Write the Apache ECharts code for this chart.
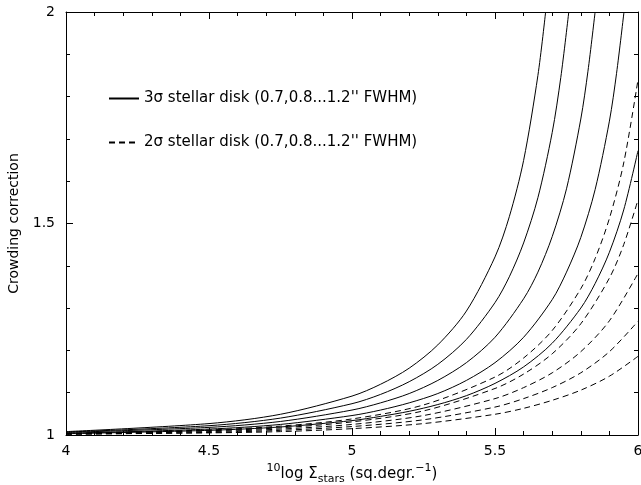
<!DOCTYPE html>
<html>
<head>
<meta charset="utf-8">
<script src="https://cdn.jsdelivr.net/npm/echarts@6/dist/echarts.min.js"></script>
<style>
html, body { margin: 0; padding: 0; background: #fff; }
#chart { width: 641px; height: 485px; }
</style>
</head>
<body>
<div id="chart"></div>
<script>
// 3 sigma stellar disk (solid), largest FWHM first
var solid12 = [[4,1.008],[4.5,1.027],[4.75,1.049],[5,1.092],[5.1,1.120],[5.2,1.158],[5.3,1.213],[5.4,1.293],[5.5,1.421],[5.55,1.516],[5.6,1.649],[5.65,1.85],[5.677,2]];
var solid11 = [[4,1.007],[4.5,1.022],[4.75,1.040],[5,1.074],[5.1,1.096],[5.2,1.126],[5.3,1.167],[5.4,1.226],[5.5,1.313],[5.55,1.374],[5.6,1.454],[5.65,1.561],[5.7,1.715],[5.73,1.845],[5.758,2]];
var solid10 = [[4,1.006],[4.5,1.018],[4.75,1.032],[5,1.059],[5.1,1.076],[5.2,1.098],[5.3,1.129],[5.4,1.171],[5.5,1.231],[5.6,1.322],[5.65,1.385],[5.7,1.469],[5.75,1.582],[5.8,1.747],[5.825,1.86],[5.85,2]];
var solid09 = [[4,1.004],[4.5,1.014],[4.75,1.025],[5,1.046],[5.1,1.059],[5.2,1.076],[5.3,1.098],[5.4,1.129],[5.5,1.171],[5.6,1.231],[5.7,1.320],[5.75,1.385],[5.8,1.467],[5.85,1.580],[5.9,1.742],[5.925,1.855],[5.951,2]];
var solid08 = [[4,1.003],[4.5,1.011],[4.75,1.019],[5,1.034],[5.1,1.044],[5.2,1.056],[5.3,1.072],[5.4,1.093],[5.5,1.122],[5.6,1.161],[5.7,1.217],[5.8,1.300],[5.85,1.358],[5.9,1.432],[5.95,1.532],[6,1.672]];

// 2 sigma stellar disk (dashed), largest FWHM first
var dash12 = [[4,1.004],[4.5,1.012],[4.75,1.021],[5,1.038],[5.25,1.071],[5.5,1.137],[5.6,1.182],[5.7,1.247],[5.8,1.346],[5.85,1.417],[5.9,1.512],[5.95,1.643],[6,1.84]];
var dash11 = [[4,1.003],[4.5,1.010],[4.75,1.017],[5,1.031],[5.25,1.057],[5.5,1.110],[5.6,1.144],[5.7,1.192],[5.8,1.263],[5.9,1.371],[5.95,1.45],[6,1.556]];
var dash10 = [[4,1.002],[4.5,1.008],[4.75,1.014],[5,1.025],[5.25,1.046],[5.5,1.086],[5.6,1.112],[5.7,1.147],[5.8,1.197],[5.9,1.270],[6,1.382]];
var dash09 = [[4,1.002],[4.5,1.006],[4.75,1.011],[5,1.020],[5.25,1.036],[5.5,1.066],[5.6,1.086],[5.7,1.112],[5.8,1.147],[5.9,1.197],[6,1.269]];
var dash08 = [[4,1.002],[4.5,1.005],[4.75,1.008],[5,1.015],[5.25,1.027],[5.5,1.049],[5.6,1.063],[5.7,1.082],[5.8,1.106],[5.9,1.139],[6,1.186]];

var name3 = "3\u03c3 stellar disk (0.7,0.8...1.2'' FWHM)";
var name2 = "2\u03c3 stellar disk (0.7,0.8...1.2'' FWHM)";
var solidCurves = [solid12, solid11, solid10, solid09, solid08];
var dashCurves = [dash12, dash11, dash10, dash09, dash08];

var font = 'DejaVu Sans';
var series = [];
solidCurves.forEach(function (d) {
  series.push({ name: name3, type: 'line', data: d, symbol: 'none', smooth: 0.3,
    lineStyle: { color: '#000', width: 1 }, itemStyle: { color: '#000', opacity: 0 }, silent: true });
});
dashCurves.forEach(function (d) {
  series.push({ name: name2, type: 'line', data: d, symbol: 'none', smooth: 0.3,
    lineStyle: { color: '#000', width: 1, type: [6, 4] }, itemStyle: { color: '#000', opacity: 0 }, silent: true });
});

function tickAxis (pos, show) {
  return {
    type: 'value', position: pos,
    axisLine: { show: true, onZero: false, lineStyle: { color: '#000', width: 1 } },
    axisTick: { show: true, inside: true, length: 7, lineStyle: { color: '#000' } },
    minorTick: { show: true, splitNumber: 5, length: 4, lineStyle: { color: '#000' } },
    splitLine: { show: false },
    axisLabel: { show: show, color: '#000', fontFamily: font, fontSize: 14 }
  };
}

var xBottom = tickAxis('bottom', true);
xBottom.min = 4; xBottom.max = 6; xBottom.interval = 0.5;
xBottom.axisLabel.margin = 9;
xBottom.name = '{sup|10}{n|log \u03a3}{sub|stars}{n| (sq.degr.}{sup|\u22121}{n|)}';
xBottom.nameLocation = 'middle';
xBottom.nameGap = 27;
xBottom.nameTextStyle = {
  color: '#000', fontFamily: font,
  rich: {
    n: { fontSize: 15, fontFamily: font, color: '#000', lineHeight: 22, verticalAlign: 'middle' },
    sup: { fontSize: 11, fontFamily: font, color: '#000', lineHeight: 22, verticalAlign: 'top' },
    sub: { fontSize: 11, fontFamily: font, color: '#000', lineHeight: 22, verticalAlign: 'bottom' }
  }
};
var xTop = tickAxis('top', false);
xTop.min = 4; xTop.max = 6; xTop.interval = 0.5;

var yLeft = tickAxis('left', true);
yLeft.min = 1; yLeft.max = 2; yLeft.interval = 0.5;
yLeft.axisLabel.margin = 11;
yLeft.name = 'Crowding correction';
yLeft.nameLocation = 'middle';
yLeft.nameGap = 40;
yLeft.nameTextStyle = { color: '#000', fontFamily: font, fontSize: 14 };
var yRight = tickAxis('right', false);
yRight.min = 1; yRight.max = 2; yRight.interval = 0.5;

var chart = echarts.init(document.getElementById('chart'));
chart.setOption({
  animation: false,
  backgroundColor: '#fff',
  grid: { left: 66, right: 3, top: 12, bottom: 50, outerBoundsMode: 'none' },
  legend: {
    data: [name3, name2], orient: 'vertical', left: 103, top: 86,
    itemWidth: 30, itemHeight: 10, itemGap: 29,
    itemStyle: { opacity: 0 },
    textStyle: { color: '#000', fontFamily: font, fontSize: 15 }
  },
  xAxis: [xBottom, xTop],
  yAxis: [yLeft, yRight],
  series: series
});
</script>
</body>
</html>
